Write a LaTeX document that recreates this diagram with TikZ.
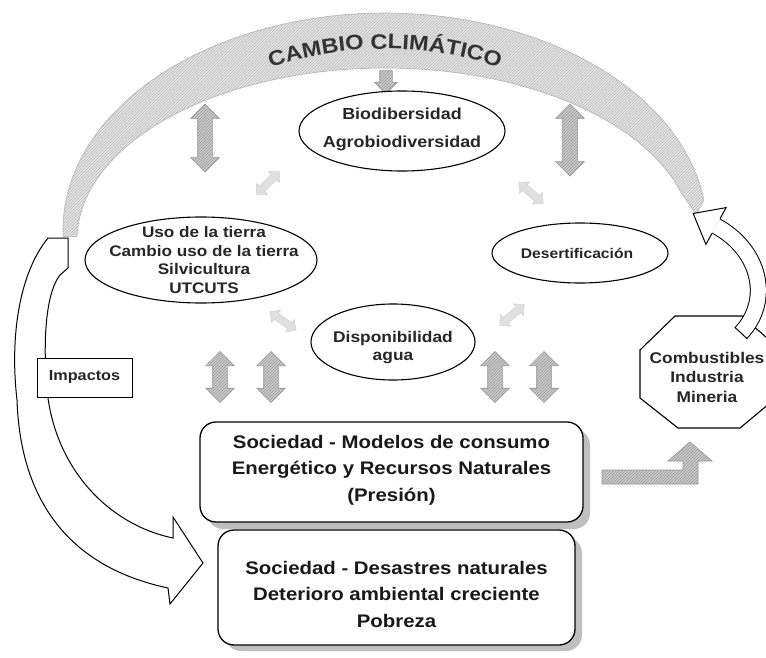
\documentclass[tikz,border=0pt]{standalone}
\usepackage{fontspec}
\setmainfont{Liberation Sans}[FakeStretch=1.12]
\usetikzlibrary{shapes.arrows,decorations.text,patterns}
\tikzset{
  bandsty/.style={preaction={fill=black!10}, pattern=north east lines, pattern color=black!28, draw=black!30, line width=0.6pt},
  hatch/.style={preaction={fill=black!20}, pattern=north east lines, pattern color=black!40, draw=black!42, line width=0.6pt},
  darr/.style={double arrow, hatch, rotate=90, minimum height=#1, text height=7pt, text depth=7pt, double arrow head extend=7pt, inner sep=0pt},
  faint/.style={double arrow, fill=black!12, draw=black!20, minimum height=32pt, text height=3.5pt, text depth=3.5pt, double arrow head extend=4pt, inner sep=0pt},
  ell/.style={draw, fill=white, line width=1.1pt},
  etext/.style={align=center, font=\bfseries\fontsize{15.3}{18.5}\selectfont, text=black!85},
  boxsty/.style={draw, fill=white, line width=1.3pt, rounded corners=16pt},
  btext/.style={align=center, font=\bfseries\fontsize{18.2}{26.5}\selectfont, text=black!90},
  shadowsty/.style={fill=black!25, rounded corners=16pt},
  hollow/.style={draw, fill=white, line width=1pt},
}
\begin{document}
\begin{tikzpicture}[x=1pt,y=-1pt]
\useasboundingbox (0,0) rectangle (766,658);
\fill[white] (0,0) rectangle (766,658);

% climate change band
\path[bandsty] plot[domain=178.15:352.05, samples=120] ({385+322*cos(\x)},{230+217*sin(\x)})
  -- (696,214)
  -- plot[domain=0:1, samples=120] ({385+308*cos(344.1-163.1*\x)},{240+172*sin(344.1-163.1*\x)}) -- cycle;
\coordinate (titleC) at (385,411);
\path[decorate, decoration={text along path, text align=center,
  text={|\bfseries\fontsize{21}{21}\selectfont\color{black!80}|CAMBIO CLIMÁTICO}}]
  (titleC) ++(135:362pt) arc[start angle=135, end angle=45, radius=362pt];

% down arrow under the title
\node[single arrow, hatch, rotate=-90, minimum height=23pt, text height=6pt, text depth=6pt, single arrow head extend=5pt, inner sep=0pt] (down) at (386,79) {};

% Impactos hollow arrow
\coordinate (impTop) at (48,238);
\coordinate (impTip) at (203,563);
\draw[hollow] (impTop) .. controls (18,275) and (10,340) .. (17,400)
  .. controls (20,490) and (60,565) .. (168,588) -- (170,604) -- (impTip) -- (173,517) -- (173,538)
  .. controls (110,525) and (55,470) .. (47,390) .. controls (42,330) and (48,290) .. (60,275)
  -- (68,268) -- (68,238) -- cycle;
\node[draw, fill=white, line width=1pt, minimum width=95pt, minimum height=39pt, inner sep=0pt,
  font=\bfseries\fontsize{14.5}{16}\selectfont, text=black!85] (imp) at (84.5,377.5) {Impactos};

% ellipses
\coordinate (bioC) at (402,131);
\draw[ell] (bioC) ellipse[x radius=103, y radius=40];
\node[etext, font=\bfseries\fontsize{16}{28}\selectfont] (bio) at (402,129) {Biodibersidad\\Agrobiodiversidad};

\coordinate (usoC) at (201,260);
\draw[ell] (usoC) ellipse[x radius=116, y radius=43];
\node[etext] (uso) at (204,260) {Uso de la tierra\\Cambio uso de la tierra\\Silvicultura\\UTCUTS};

\coordinate (desC) at (580,253);
\draw[ell] (desC) ellipse[x radius=88, y radius=30];
\node[etext, font=\bfseries\fontsize{14}{17}\selectfont] (des) at (577,253) {Desertificación};

\coordinate (aguaC) at (393,342);
\draw[ell] (aguaC) ellipse[x radius=82, y radius=38];
\node[etext, font=\bfseries\fontsize{15.5}{18}\selectfont] (agua) at (393,348) {Disponibilidad\\agua};

% vertical double arrows
\node[darr=68pt] (a1) at (205,138) {};
\node[darr=72pt] (a2) at (570,140) {};
\node[darr=51pt] (a3) at (220,377) {};
\node[darr=51pt] (a4) at (271,377) {};
\node[darr=51pt] (a5) at (495,377) {};
\node[darr=51pt] (a6) at (544,377) {};

% faint diagonal arrows
\node[faint, rotate=45] (f1) at (268,183) {};
\node[faint, rotate=-40] (f2) at (531,193) {};
\node[faint, rotate=-35] (f3) at (283,321) {};
\node[faint, rotate=40] (f4) at (512,315) {};

% boxes
\path[shadowsty] (207,429) rectangle (590,529);
\node[boxsty, minimum width=383pt, minimum height=100pt] (soc1) at (391.5,472) {};
\node[btext] (soc1t) at (391.5,470) {Sociedad - Modelos de consumo\\Energético y Recursos Naturales\\(Presión)};

\path[shadowsty] (225,537) rectangle (582,651);
\node[boxsty, minimum width=357pt, minimum height=115pt] (soc2) at (396.5,587.5) {};
\node[btext] (soc2t) at (396.5,594) {Sociedad - Desastres naturales\\Deterioro ambiental creciente\\Pobreza};

% octagon
\draw[hollow, line width=1.1pt] (675,316) -- (742,316) -- (776,346) -- (776,398) -- (740,428) -- (678,428) -- (640,398) -- (640,350) -- cycle;
\node[etext, font=\bfseries\fontsize{15.5}{19.5}\selectfont] (comb) at (707,377) {Combustibles\\Industria\\Mineria};

% curved arrow from octagon to band
\coordinate (cStart) at (741,333);
\coordinate (cEnd) at (716,226);
\draw[double=white, double distance=15pt, line width=1pt] (cStart) .. controls (772,300) and (760,250) .. (cEnd);
\draw[line width=1pt] (734.8,327.2) -- (747.2,338.8);
\fill[white] (726.1,207.6) -- (693.2,213.5) -- (705.9,244.4) -- cycle;
\draw[line width=1pt, line join=miter] (720.1,218.5) -- (726.1,207.6) -- (693.2,213.5) -- (705.9,244.4) -- (711.9,233.5);

% L-shaped arrow from box to octagon
\draw[hatch] (602,470) -- (683,470) -- (683,461) -- (668,461) -- (690,442) -- (712,461) -- (698,461) -- (698,484) -- (602,484) -- cycle;
\end{tikzpicture}
\end{document}
